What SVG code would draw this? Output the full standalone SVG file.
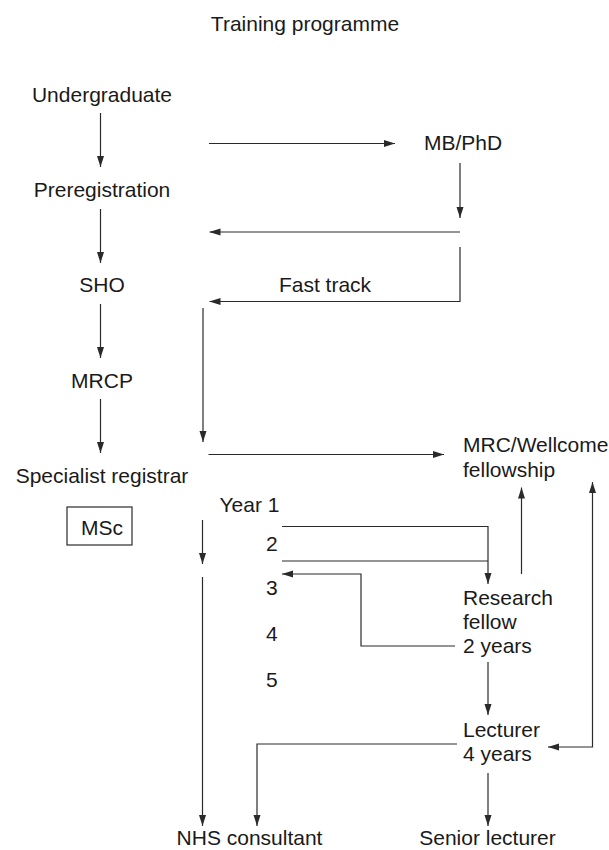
<svg xmlns="http://www.w3.org/2000/svg" width="609" height="850" viewBox="0 0 609 850">
<style>
text{font-family:"Liberation Sans",Arial,sans-serif;font-size:21px;fill:#1a1a1a}
.c{fill:none;stroke:#2a2a2a;stroke-width:1.2}
.m{text-anchor:middle}
.box{fill:#fff;stroke:#2a2a2a;stroke-width:1.2}
</style>
<defs>
<marker id="ah" markerUnits="userSpaceOnUse" markerWidth="11" markerHeight="8" refX="11" refY="3.5" orient="auto-start-reverse">
<path d="M0,0 L11,3.5 L0,7 z" fill="#2a2a2a"/>
</marker>
</defs>
<rect width="609" height="850" fill="#fff"/>
<g id="title"><text class="m" x="305" y="31">Training programme</text></g>
<g id="undergraduate"><text class="m" x="102" y="102">Undergraduate</text></g>
<g id="preregistration"><text class="m" x="102" y="197">Preregistration</text></g>
<g id="sho"><text class="m" x="102" y="292">SHO</text></g>
<g id="mrcp"><text class="m" x="102" y="388">MRCP</text></g>
<g id="specialist-registrar"><text class="m" x="102" y="483">Specialist registrar</text></g>
<g id="msc"><rect class="box" x="67" y="507" width="65" height="38"/><text class="m" x="102" y="535">MSc</text></g>
<g id="mbphd"><text x="424" y="150">MB/PhD</text></g>
<g id="fast-track"><text class="m" x="325" y="292">Fast track</text></g>
<g id="mrc-wellcome"><text x="463" y="452">MRC/Wellcome</text><text x="463" y="476.5">fellowship</text></g>
<g id="years"><text x="219.5" y="512">Year 1</text><text x="266" y="551">2</text><text x="266" y="595">3</text><text x="266" y="641">4</text><text x="266" y="687">5</text></g>
<g id="research-fellow"><text x="463" y="605">Research</text><text x="463" y="628.5">fellow</text><text x="463" y="652.5">2 years</text></g>
<g id="lecturer"><text x="463" y="737">Lecturer</text><text x="463" y="761">4 years</text></g>
<g id="nhs-consultant"><text class="m" x="249.5" y="845">NHS consultant</text></g>
<g id="senior-lecturer"><text class="m" x="487.5" y="845">Senior lecturer</text></g>
<g id="connectors">
<line class="c" x1="100.5" y1="113" x2="100.5" y2="167" marker-end="url(#ah)"/>
<line class="c" x1="100.5" y1="209" x2="100.5" y2="263" marker-end="url(#ah)"/>
<line class="c" x1="100.5" y1="304" x2="100.5" y2="358" marker-end="url(#ah)"/>
<line class="c" x1="100.5" y1="399" x2="100.5" y2="453" marker-end="url(#ah)"/>
<line class="c" x1="209" y1="143.5" x2="395" y2="143.5" marker-end="url(#ah)"/>
<line class="c" x1="460" y1="163" x2="460" y2="218" marker-end="url(#ah)"/>
<line class="c" x1="460" y1="232" x2="209.5" y2="232" marker-end="url(#ah)"/>
<polyline class="c" points="460,247 460,301.5 209.5,301.5" marker-end="url(#ah)"/>
<line class="c" x1="203" y1="308" x2="203" y2="442" marker-end="url(#ah)"/>
<line class="c" x1="208.5" y1="454.5" x2="444" y2="454.5" marker-end="url(#ah)"/>
<line class="c" x1="202.5" y1="520" x2="202.5" y2="564" marker-end="url(#ah)"/>
<line class="c" x1="202.5" y1="577" x2="202.5" y2="826" marker-end="url(#ah)"/>
<polyline class="c" points="282,526.5 488,526.5 488,584" marker-end="url(#ah)"/>
<line class="c" x1="282" y1="561" x2="488" y2="561"/>
<polyline class="c" points="455,646 361,646 361,574 282,574" marker-end="url(#ah)"/>
<line class="c" x1="521.5" y1="574" x2="521.5" y2="487.5" marker-end="url(#ah)"/>
<polyline class="c" points="592.5,482 592.5,747 548,747" marker-start="url(#ah)" marker-end="url(#ah)"/>
<line class="c" x1="488" y1="662" x2="488" y2="715" marker-end="url(#ah)"/>
<polyline class="c" points="457,744 257,744 257,826" marker-end="url(#ah)"/>
<line class="c" x1="488" y1="773" x2="488" y2="826" marker-end="url(#ah)"/>
</g>
</svg>
